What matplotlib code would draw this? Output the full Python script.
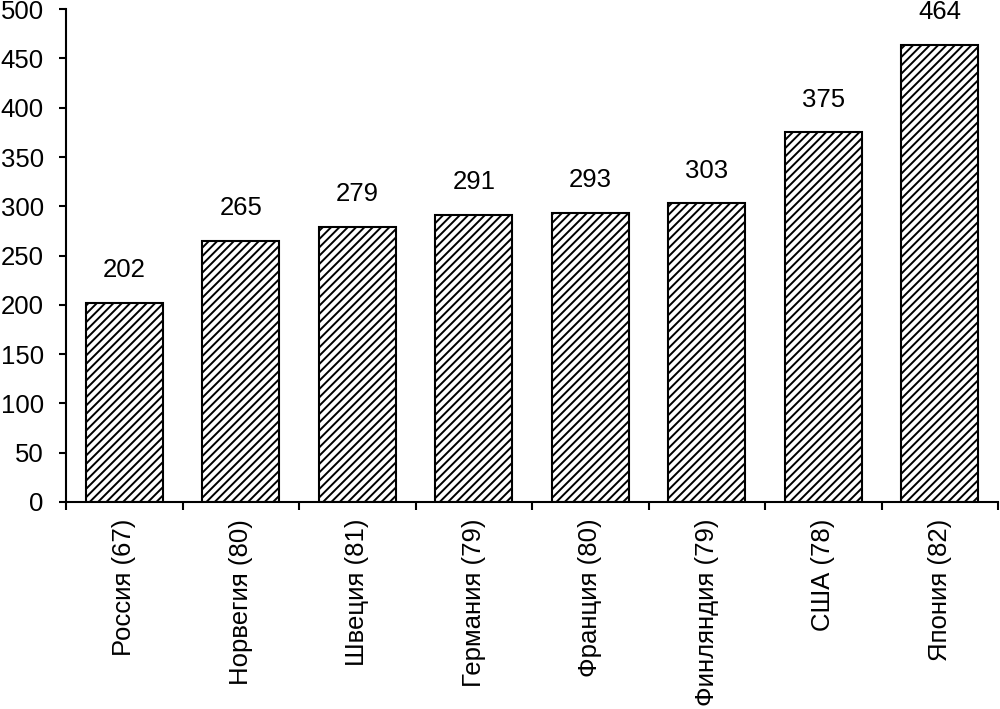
import matplotlib.pyplot as plt
import numpy as np

plt.rcParams['font.family'] = ['Liberation Sans', 'DejaVu Sans']
plt.rcParams['hatch.linewidth'] = 1.4

countries = ["Россия (67)", "Норвегия (80)", "Швеция (81)", "Германия (79)",
             "Франция (80)", "Финляндия (79)", "США (78)", "Япония (82)"]
values = [202, 265, 279, 291, 293, 303, 375, 464]

fig = plt.figure(figsize=(10, 7.09), dpi=100)
ax = fig.add_axes([0.066, 0.292, 0.932, 0.695])

x = np.arange(len(countries))
bars = ax.bar(x, values, width=0.66, color="white", edgecolor="black",
              linewidth=1.5, hatch="////")

for b, v in zip(bars, values):
    ax.annotate(str(v), (b.get_x() + b.get_width() / 2, v),
                xytext=(0, 15), textcoords="offset points",
                ha="center", va="bottom", fontsize=18.5)

ax.set_xlim(-0.5, len(countries) - 0.5)
ax.set_ylim(0, 500)
ax.set_yticks(range(0, 501, 50))
ax.tick_params(axis="y", labelsize=18.5, length=5, width=1.5, direction="out", pad=11)

# category boundary ticks on x, labels centred under bars
ax.set_xticks(np.arange(-0.5, len(countries), 1.0))
ax.set_xticklabels([])
ax.set_xticks(x, minor=True)
ax.set_xticklabels(countries, minor=True, rotation=90, fontsize=18.5, va="top")
ax.tick_params(axis="x", which="major", length=6, width=1.5, direction="out")
ax.tick_params(axis="x", which="minor", length=0, pad=12)

for s in ["top", "right"]:
    ax.spines[s].set_visible(False)
for s in ["left", "bottom"]:
    ax.spines[s].set_linewidth(1.5)

fig.savefig("out.png", dpi=100)
